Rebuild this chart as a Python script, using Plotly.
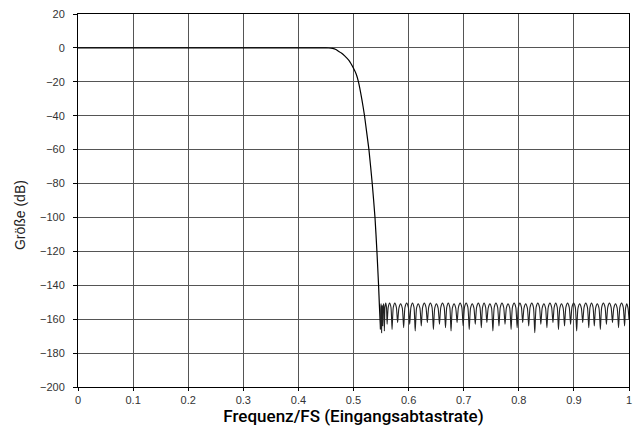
import plotly.graph_objects as go

# Passband and transition band of the filter response (dB vs. normalised frequency)
trans_f = [0.0, 0.30, 0.45, 0.455, 0.462, 0.468, 0.472, 0.478, 0.484, 0.492, 0.500,
           0.505, 0.509, 0.515, 0.520, 0.524, 0.528, 0.534, 0.539, 0.5425, 0.5455, 0.547, 0.549]
trans_db = [0.0, 0.0, 0.0, -0.05, -0.3, -0.9, -1.8, -3.0, -4.7, -7.5, -12.0,
            -15.5, -20.0, -30.0, -40.0, -50.0, -60.0, -80.0, -100.0, -120.0, -140.0, -152.0, -166.0]

# Stopband: nulls (frequency, depth), lobe shoulders and lobe maxima between them
null_f = [0.549, 0.551, 0.553, 0.556, 0.561, 0.570, 0.580, 0.591, 0.602, 0.612,
          0.623, 0.634, 0.645, 0.656, 0.667, 0.677, 0.688, 0.699, 0.710, 0.721,
          0.732, 0.742, 0.753, 0.764, 0.775, 0.786, 0.797, 0.807, 0.818, 0.829,
          0.840, 0.851, 0.862, 0.872, 0.883, 0.894, 0.905, 0.916, 0.927, 0.937,
          0.948, 0.959, 0.970, 0.981, 0.992, 1.000]
null_db = [-166, -168, -164, -167, -163, -166, -162, -165, -163, -167,
           -164, -162, -166, -163, -165, -167, -162, -164, -166, -163,
           -165, -162, -167, -164, -163, -166, -165, -162, -164, -168,
           -163, -165, -162, -166, -164, -163, -167, -162, -165, -164,
           -166, -163, -162, -165, -164, -160]
shoulder_db = [-154, -155, -154, -153, -153, -153, -153.5, -153, -153, -153.5,
               -153, -153, -153.5, -153, -153, -153.5, -153, -153, -153.5, -153,
               -153, -153.5, -153, -153, -153.5, -153, -153, -153.5, -153, -153,
               -153.5, -153, -153, -153.5, -153, -153, -153.5, -153, -153, -153.5,
               -153, -153, -153.5, -153, -153.5]
peak_db = [-151, -152, -151, -150.5, -150.5, -150.5, -151, -150.5, -150.5, -151,
           -150.5, -150.5, -151, -150.5, -150.5, -151, -150.5, -150.5, -151, -150.5,
           -150.5, -151, -150.5, -150.5, -151, -150.5, -150.5, -151, -150.5, -150.5,
           -151, -150.5, -150.5, -151, -150.5, -150.5, -151, -150.5, -150.5, -151,
           -150.5, -150.5, -151, -150.5, -151]

x_ticks = [0, 0.1, 0.2, 0.3, 0.4, 0.5, 0.6, 0.7, 0.8, 0.9, 1]
x_labels = ["0", "0.1", "0.2", "0.3", "0.4", "0.5", "0.6", "0.7", "0.8", "0.9", "1"]
y_ticks = list(range(-200, 21, 20))

# Each lobe: null, shoulder, peak, shoulder, next null
stop_f, stop_db = [], []
for i in range(len(null_f) - 1):
    a, b = null_f[i], null_f[i + 1]
    w = b - a
    stop_f += [a, a + 0.22 * w, a + 0.5 * w, a + 0.78 * w]
    stop_db += [null_db[i], shoulder_db[i], peak_db[i], shoulder_db[i]]
stop_f.append(null_f[-1])
stop_db.append(null_db[-1])

fig = go.Figure()
fig.add_trace(go.Scatter(x=trans_f, y=trans_db, mode="lines",
                         line=dict(color="black", width=1.2, shape="spline", smoothing=0.5),
                         hoverinfo="skip"))
fig.add_trace(go.Scatter(x=stop_f, y=stop_db, mode="lines",
                         line=dict(color="#222", width=1.1, shape="spline", smoothing=0.6),
                         hoverinfo="skip"))

fig.add_annotation(text="Größe (dB)", xref="paper", yref="paper",
                   x=-0.104, y=0.46, xanchor="center", yanchor="middle", textangle=-90,
                   showarrow=False,
                   font=dict(family="Liberation Sans", size=14, color="#222"))

grid = "#555"
fig.update_layout(
    width=640, height=429,
    margin=dict(l=78, r=8, t=14, b=42),
    paper_bgcolor="white", plot_bgcolor="white",
    showlegend=False,
    xaxis=dict(range=[0, 1], tickvals=x_ticks, ticktext=x_labels,
               showgrid=True, gridcolor=grid, gridwidth=1,
               showline=True, linecolor="black", linewidth=1, mirror=True,
               ticks="outside", ticklen=3, tickcolor="black",
               tickfont=dict(family="Liberation Sans", size=11, color="#333"),
               title=dict(text="Frequenz/FS (Eingangsabtastrate)", standoff=3,
                          font=dict(family="Roboto", size=17, color="black", weight=500)),
               zeroline=False),
    yaxis=dict(range=[-200, 20], tickvals=y_ticks,
               showgrid=True, gridcolor=grid, gridwidth=1,
               showline=True, linecolor="black", linewidth=1, mirror=True,
               ticks="outside", ticklen=4, tickcolor="black", ticklabelstandoff=6,
               tickfont=dict(family="Liberation Sans", size=11, color="#333"),
               zeroline=False),
)

fig.write_html("out.html")
